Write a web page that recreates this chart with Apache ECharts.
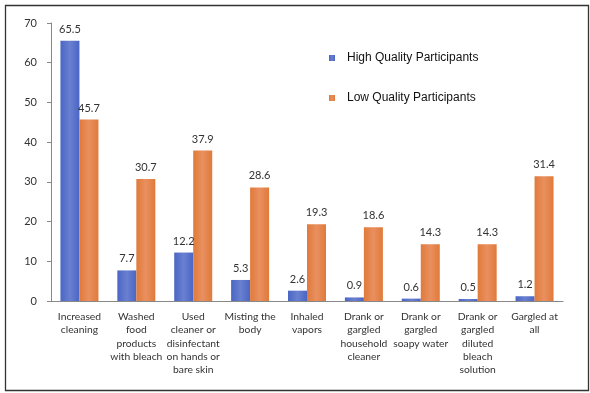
<!DOCTYPE html>
<html><head><meta charset="utf-8">
<script src="https://cdn.jsdelivr.net/npm/echarts@6/dist/echarts.min.js"></script>
<style>html,body{margin:0;padding:0;background:#fff}#c{width:590px;height:393px}</style>
</head><body><div id="c"></div>
<script>
const categories = ["Increased\ncleaning","Washed\nfood\nproducts\nwith bleach","Used\ncleaner or\ndisinfectant\non hands or\nbare skin","Misting the\nbody","Inhaled\nvapors","Drank or\ngargled\nhousehold\ncleaner","Drank or\ngargled\nsoapy water","Drank or\ngargled\ndiluted\nbleach\nsolution","Gargled at\nall"];
const highQuality = [65.5, 7.7, 12.2, 5.3, 2.6, 0.9, 0.6, 0.5, 1.2];
const lowQuality = [45.7, 30.7, 37.9, 28.6, 19.3, 18.6, 14.3, 14.3, 31.4];
const seriesNames = ["High Quality Participants", "Low Quality Participants"];

const font = "Lato, 'Open Sans', sans-serif";
const chart = echarts.init(document.getElementById('c'));
function grad(a, b) {
  return new echarts.graphic.LinearGradient(0, 0, 1, 0, [{offset:0,color:a},{offset:0.5,color:b},{offset:1,color:a}]);
}
chart.setOption({
  animation: false,
  color: ['#4a66c4', '#e07a3a'],
  graphic: [{type:'rect', left:3, top:3, shape:{width:583, height:385}, style:{fill:'none', stroke:'#333', lineWidth:1.3}, z:10}],
  legend: {
    orient: 'vertical', left: 324, top: 47, itemGap: 28, itemWidth: 6, itemHeight: 6,
    icon: 'rect',
    textStyle: {fontFamily: 'Arial, "Liberation Sans"', fontSize: 12, color: '#111', padding:[0,0,0,7]},
    data: seriesNames
  },
  grid: {left: 51, right: 27, top: 23, bottom: 92},
  xAxis: {
    type: 'category', data: categories,
    axisLine: {lineStyle: {color: '#888'}},
    axisTick: {show: false},
    axisLabel: {interval: 0, fontFamily: font, fontSize: 10.3, color: '#333', lineHeight: 13.3, margin: 9}
  },
  yAxis: {
    type: 'value', min: 0, max: 70, interval: 10,
    axisLine: {show: true, lineStyle: {color: '#888'}},
    axisTick: {show: true, length: 4, lineStyle: {color: '#888'}},
    splitLine: {show: false},
    axisLabel: {fontFamily: font, fontSize: 11, color: '#333', margin: 14}
  },
  series: [
    {name: seriesNames[0], type: 'bar', data: highQuality, barWidth: 19, barGap: '0%',
     itemStyle: {color: grad('#4a66c4','#6a80d0')},
     label: {show: true, position: 'top', distance: 6, fontFamily: font, fontSize: 11, color: '#333'}},
    {name: seriesNames[1], type: 'bar', data: lowQuality, barWidth: 19,
     itemStyle: {color: grad('#e07a3a','#e99060')},
     label: {show: true, position: 'top', distance: 6, fontFamily: font, fontSize: 11, color: '#333'}}
  ]
});
</script></body></html>
